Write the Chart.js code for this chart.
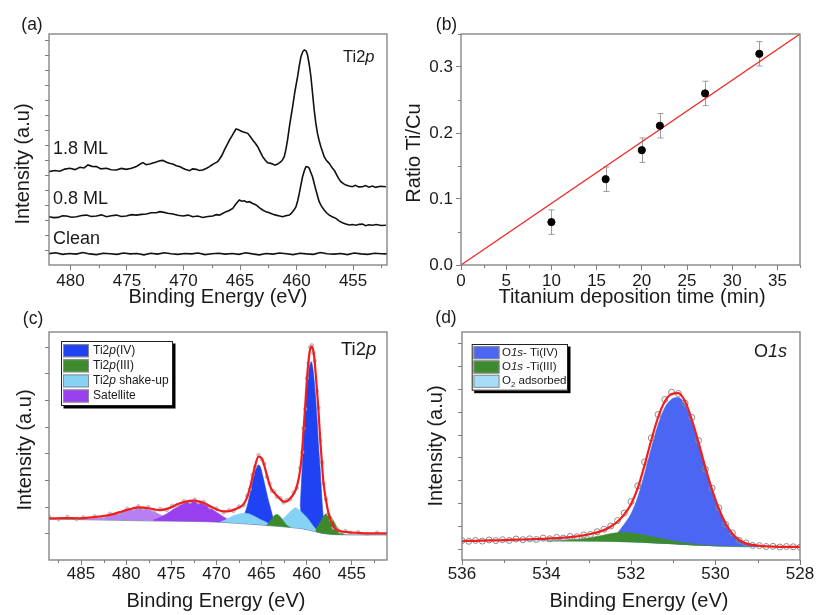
<!DOCTYPE html>
<html><head><meta charset="utf-8">
<script src="https://cdn.jsdelivr.net/npm/chart.js@4.4.1/dist/chart.umd.min.js"></script>
<style>
html,body{margin:0;padding:0;background:#fff;}
#wrap{position:relative;width:816px;height:615px;overflow:hidden;background:#fff;}
canvas{position:absolute;left:0;top:0;width:816px;height:615px;}
</style></head><body>
<div id="wrap">
<canvas id="ca" width="816" height="615"></canvas>
<canvas id="cb" width="816" height="615"></canvas>
<canvas id="cc" width="816" height="615"></canvas>
<canvas id="cd" width="816" height="615"></canvas>
</div>
<script>
// ================= DATA =================
// (a) Ti2p spectra, [binding energy (eV), intensity (a.u.)]
const aXTicks = [480, 475, 470, 465, 460, 455];
const aXMinor = [477.5, 472.5, 467.5, 462.5, 457.5, 452.5];
const aYTicks = [6.5, 13, 19.5, 26, 32.5, 39, 45.5, 52, 58.5, 65, 71.5, 78, 84.5, 91, 97.5];
const aSeriesNames = ['1.8 ML', '0.8 ML', 'Clean'];
const a18 = [[481.92,40.4],[481.4,40.9],[480.94,40.6],[480.5,41.5],[480.06,41.9],[479.6,41.3],[479.18,42.3],[478.8,42.0],[478.45,43.3],[478.1,42.7],
[477.7,42.6],[477.3,41.6],[476.82,41.9],[476.4,41.2],[475.94,41.1],[475.5,41.8],[475.06,41.4],[474.6,41.9],[474.17,42.6],[473.9,43.5],
[473.59,44.3],[473.3,43.4],[473.0,43.7],[472.7,44.2],[472.41,44.6],[472.1,45.1],[471.83,45.3],[471.5,44.5],[471.24,44.0],[470.9,43.6],
[470.64,43.0],[470.3,42.5],[470.06,41.9],[469.8,41.3],[469.47,40.8],[469.2,41.6],[468.88,41.4],[468.6,40.9],[468.3,41.1],[468.0,41.8],
[467.7,42.6],[467.5,43.3],[467.26,44.0],[467.0,44.6],[466.82,45.8],[466.6,47.5],[466.38,49.8],[466.15,52.0],[465.94,54.1],[465.7,56.0],
[465.5,57.7],[465.35,58.9],[465.2,58.7],[465.0,58.2],[464.77,57.7],[464.55,57.4],[464.32,57.0],[464.1,55.6],[463.88,54.1],[463.65,52.7],
[463.44,51.2],[463.2,48.9],[463.0,46.9],[462.75,45.2],[462.56,44.3],[462.35,44.1],[462.12,43.7],[461.9,43.2],[461.68,43.7],[461.5,44.3],
[461.38,44.7],[461.25,45.5],[461.09,46.9],[460.95,49.8],[460.8,54.1],[460.6,61.0],[460.35,68.5],[460.15,75.0],[459.91,81.5],[459.75,86.5],
[459.61,90.2],[459.45,92.4],[459.32,93.1],[459.15,92.6],[459.03,90.9],[458.88,86.8],[458.73,81.5],[458.6,75.0],[458.44,67.1],[458.3,61.5],
[458.15,57.0],[458.0,53.8],[457.85,51.2],[457.7,49.0],[457.56,46.9],[457.35,45.2],[457.11,44.0],[456.95,42.8],[456.82,41.9],[456.65,40.9],
[456.52,39.7],[456.3,37.6],[456.08,36.1],[455.85,35.2],[455.64,34.6],[455.35,34.2],[455.06,33.9],[454.8,34.5],[454.5,33.8],[454.17,33.9],
[453.9,34.4],[453.6,33.7],[453.29,34.2],[453.0,33.6],[452.6,34.1],[452.1,33.9]];
const a08 = [[481.92,20.9],[481.5,20.5],[481.09,20.6],[480.7,21.3],[480.35,21.2],[479.9,20.7],[479.47,20.9],[479.0,21.4],[478.59,21.6],[478.15,21.0],
[477.7,21.2],[477.25,21.7],[476.82,20.9],[476.4,21.3],[475.94,21.6],[475.5,21.0],[475.06,21.2],[474.6,21.8],[474.17,21.6],[473.7,21.9],
[473.29,22.1],[472.85,22.6],[472.41,22.6],[472.1,23.1],[471.83,22.9],[471.4,22.4],[470.94,22.1],[470.5,21.5],[470.06,21.2],[469.6,21.6],
[469.18,20.9],[468.75,21.2],[468.3,20.6],[467.85,21.0],[467.41,21.2],[467.1,21.8],[466.82,21.6],[466.5,22.4],[466.23,23.1],[465.95,23.6],
[465.65,24.5],[465.35,26.5],[465.06,28.1],[464.85,27.6],[464.62,27.8],[464.4,27.2],[464.17,27.4],[463.88,26.6],[463.58,26.0],[463.3,24.8],
[463.0,23.8],[462.7,23.0],[462.41,22.6],[462.1,22.0],[461.82,21.6],[461.5,21.2],[461.24,20.9],[460.95,21.3],[460.64,21.6],[460.5,22.2],
[460.35,23.1],[460.2,24.0],[460.05,25.2],[459.9,27.8],[459.76,31.0],[459.6,35.0],[459.47,38.2],[459.3,41.0],[459.17,42.6],[459.0,42.4],
[458.88,41.9],[458.72,39.8],[458.59,38.2],[458.45,35.5],[458.29,32.5],[458.15,30.0],[458.0,27.4],[457.8,25.5],[457.56,23.8],[457.35,22.6],
[457.11,21.6],[456.8,20.8],[456.52,20.2],[456.25,19.1],[455.94,18.3],[455.65,17.8],[455.35,17.3],[455.05,17.5],[454.76,17.2],[454.45,17.6],
[454.17,17.7],[453.9,17.0],[453.6,17.4],[453.29,17.2],[452.95,17.5],[452.5,17.1],[452.1,17.2]];
const aClean = [[481.9,4.9],[481.3,5.3],[480.7,4.6],[480.1,5.0],[479.5,4.7],[478.9,5.4],[478.3,4.8],[477.7,4.5],[477.1,5.1],[476.5,4.9],
[475.9,4.6],[475.3,5.2],[474.7,4.8],[474.1,5.0],[473.5,4.4],[472.9,5.1],[472.3,4.7],[471.7,5.3],[471.1,4.9],[470.5,4.6],
[469.9,5.0],[469.3,4.8],[468.7,5.2],[468.1,4.5],[467.5,4.9],[466.9,5.1],[466.3,4.7],[465.7,5.0],[465.1,4.6],[464.5,5.3],
[463.9,4.8],[463.3,4.4],[462.7,5.0],[462.1,4.7],[461.5,5.2],[460.9,4.9],[460.3,4.5],[459.7,5.1],[459.1,4.8],[458.5,4.6],
[457.9,5.4],[457.3,4.9],[456.7,4.7],[456.1,5.0],[455.5,4.5],[454.9,5.2],[454.3,4.8],[453.7,4.6],[453.1,5.1],[452.5,4.9],[452.0,4.8]];

// (b) Ti/Cu ratio vs deposition time
const bXTicks = [0, 5, 10, 15, 20, 25, 30, 35];
const bXMinor = [2.5, 7.5, 12.5, 17.5, 22.5, 27.5, 32.5, 37.5];
const bYTicks = [0, 0.1, 0.2, 0.3];
const bYMinor = [0.05, 0.15, 0.25, 0.35];
const bTime = [10, 16, 20, 22, 27, 33];
const bRatio = [0.065, 0.130, 0.174, 0.211, 0.260, 0.320];
const bErr = [0.0185, 0.0185, 0.0185, 0.0185, 0.0185, 0.0185];
const bFitX = [0, 37.5];
const bFitY = [0, 0.35];

// (c) Ti2p fit
const cXTicks = [485, 480, 475, 470, 465, 460, 455];
const cXMinor = [487.5, 482.5, 477.5, 472.5, 467.5, 462.5, 457.5, 452.5];
const cYTicks = [11.7, 23.4, 35.1, 46.8, 58.5, 70.2, 81.9, 93.6];
const cBase = [[488.55,17.9],[486,17.8],[483,17.6],[480,17.4],[477,17.2],[474,17.0],[471,16.8],[469,16.5],[467.5,16.1],[466,15.7],
[464.5,15.2],[463,14.7],[461.5,14.2],[460.5,13.7],[459.8,13.2],[459.2,12.6],[458.6,12.0],[458,11.5],[457.3,11.2],[456.5,11.1],[454,11.0],[451.1,11.0]];
const cSat1 = [[485,17.8],[484,18.0],[483,18.5],[482,19.4],[481,20.5],[480,21.7],[479.2,22.5],[478.6,22.7],[478,22.6],[477.3,21.8],
[476.6,20.6],[476,19.4],[475.3,18.3],[474.6,17.6],[474,17.2]];
const cSat2 = [[477,17.5],[476.2,18.8],[475.5,20.3],[474.8,22.2],[474,24.0],[473.3,25.2],[472.7,25.6],[472,25.3],[471.3,24.2],[470.6,22.6],
[469.9,20.7],[469.2,18.9],[468.5,17.4],[467.8,16.6]];
const cShake1 = [[469.6,16.6],[469,17.6],[468.4,18.9],[467.8,19.9],[467.2,20.4],[466.8,20.5],[466.3,20.1],[465.8,19.2],[465.2,17.9],[464.6,16.8],[464,15.6],[463.5,15.0]];
const cShake2 = [[464.2,15.2],[463.5,16.0],[463,17.0],[462.5,18.5],[462,20.5],[461.5,22.4],[461.25,22.9],[460.8,21.8],[460.3,20.0],[459.8,17.8],[459.3,15.0],[458.8,12.8],[458.5,11.8]];
const cIV1 = [[466.9,20.0],[466.6,23.5],[466.3,28.5],[466.0,34.0],[465.7,39.0],[465.34,41.7],[465.1,40.5],[464.85,36.5],[464.6,32.2],[464.3,27.0],[464.05,23.4],[463.8,19.5],[463.6,16.8]];
const cIV2 = [[460.72,23.4],[460.55,36.0],[460.35,51.2],[460.15,65.0],[459.98,74.6],[459.8,81.0],[459.69,84.8],[459.5,87.0],[459.35,85.0],[459.25,81.9],
[459.05,73.0],[458.87,62.9],[458.7,51.0],[458.5,39.5],[458.35,29.0],[458.2,20.5],[458.1,16.5]];
const cIII1 = [[464.4,15.3],[464,17.3],[463.6,19.4],[463.3,20.0],[463,19.3],[462.6,17.2],[462.2,15.2],[461.8,14.3]];
const cIII2 = [[459,13.5],[458.5,16.5],[458.1,19.5],[457.76,20.2],[457.4,19.5],[457,17.0],[456.6,14.0],[456.2,12.0],[455.8,11.3]];
const cEnv = [[488.55,18.3],[487.5,18.3],[486.5,18.4],[485.5,18.3],[484.75,18.4],[483.5,18.8],[482.5,19.3],[481.8,19.8],[480.8,20.9],[479.9,22.0],
[479.2,22.7],[478.65,23.1],[478.1,23.0],[477.54,22.7],[476.9,22.2],[476.24,21.9],[475.5,22.4],[474.9,23.3],[474.39,24.3],[473.6,25.4],
[472.92,25.9],[472.4,26.0],[472.0,25.7],[471.4,25.0],[470.7,23.6],[470.0,22.2],[469.2,21.3],[468.6,21.4],[468.1,22.0],[467.5,23.0],
[467.0,24.4],[466.6,27.5],[466.3,31.5],[466.0,36.5],[465.7,41.5],[465.34,45.3],[464.97,44.5],[464.7,41.5],[464.4,37.0],[464.1,33.0],
[463.86,30.8],[463.6,29.5],[463.3,28.2],[462.9,26.6],[462.57,25.6],[462.2,25.8],[461.83,27.0],[461.45,29.0],[461.09,32.2],[460.72,39.5],
[460.5,48.0],[460.35,57.0],[460.17,67.0],[459.98,78.9],[459.8,87.0],[459.61,92.5],[459.43,93.6],[459.25,91.5],[459.1,86.5],[458.87,75.0],
[458.7,66.0],[458.5,53.0],[458.3,42.0],[458.14,34.0],[457.85,26.0],[457.58,20.5],[457.3,17.0],[457.03,14.6],[456.6,13.2],[456.3,12.7],
[455.7,12.3],[455.2,12.1],[454.3,11.9],[453.3,11.7],[452.2,11.7],[451.1,11.7]];
const cMeas = [[488.55,18.8],[487.5,17.9],[486.5,18.9],[485.5,18.0],[484.75,18.7],[483.5,19.2],[482.5,18.9],[481.8,20.3],[480.8,20.5],[479.9,22.5],
[479.2,22.3],[478.65,23.6],[478.1,22.6],[477.54,23.2],[476.9,21.7],[476.24,22.4],[475.5,21.9],[474.9,23.8],[474.39,23.9],[473.6,25.9],
[472.92,25.5],[472.4,26.5],[472.0,25.3],[471.4,25.5],[470.7,23.1],[470.0,22.7],[469.2,20.8],[468.6,21.9],[468.1,21.5],[467.5,23.5],
[467.0,24.0],[466.6,28.2],[466.3,31.0],[466.0,37.3],[465.7,41.0],[465.34,46.0],[464.97,44.0],[464.7,42.2],[464.4,36.4],[464.1,33.6],
[463.86,30.3],[463.6,30.1],[463.3,27.7],[462.9,27.1],[462.57,25.2],[462.2,26.3],[461.83,26.6],[461.45,29.6],[461.09,31.7],[460.72,40.3],
[460.5,47.3],[460.35,57.8],[460.17,66.2],[459.98,79.8],[459.8,86.3],[459.61,93.3],[459.43,94.2],[459.25,90.8],[459.1,87.3],[458.87,74.2],
[458.7,66.8],[458.5,52.3],[458.3,42.8],[458.14,33.5],[457.85,26.6],[457.58,20.0],[457.3,17.5],[457.03,14.2],[456.6,13.6],[456.3,12.4],
[455.7,12.7],[455.2,11.8],[454.3,12.2],[453.3,11.4],[452.2,12.0],[451.1,11.5]];

// (d) O1s fit
const dXTicks = [536, 534, 532, 530, 528];
const dXMinor = [535, 533, 531, 529];
const dYTicks = [5, 15, 25, 35, 45, 55, 65, 75, 85, 95];
const dBase = [[536,8.2],[535,8.2],[534,8.2],[533,8.1],[532.5,8.0],[532,7.8],[531.5,7.4],[531,6.9],[530.5,6.4],[530,6.0],[529.5,5.8],[529,5.7],[528,5.7]];
const dO2 = [[535.2,8.25],[534.8,8.5],[534.4,8.8],[534.0,9.05],[533.6,9.2],[533.2,9.2],[532.8,9.0],[532.4,8.6],[532.0,8.1],[531.6,7.6]];
const dIII = [[534.0,8.3],[533.6,8.6],[533.2,9.2],[532.9,10.0],[532.6,11.1],[532.4,11.8],[532.2,12.1],[532.0,11.9],[531.8,11.3],[531.5,10.2],
[531.2,9.1],[530.9,8.0],[530.6,7.2],[530.3,6.6],[530.0,6.2],[529.6,5.9],[529.2,5.75]];
const dIV = [[532.32,11.8],[532.16,15.7],[532.0,20.2],[531.84,27.5],[531.68,37.7],[531.52,49.0],[531.36,59.3],[531.2,66.8],[531.04,70.5],[530.88,71.3],
[530.72,68.0],[530.56,60.3],[530.4,50.6],[530.24,39.9],[530.08,30.4],[529.92,22.2],[529.76,15.8],[529.6,11.4],[529.44,8.7],[529.28,7.2],
[529.12,6.5],[528.96,6.1],[528.8,5.9],[528.64,5.8],[528.32,5.7]];
const dFit = [[536.0,8.3],[535.84,8.4],[535.68,8.4],[535.52,8.5],[535.36,8.6],[535.2,8.6],[535.04,8.7],[534.88,8.8],[534.72,8.9],[534.56,9.0],
[534.4,9.1],[534.24,9.2],[534.08,9.3],[533.92,9.5],[533.76,9.6],[533.6,9.8],[533.44,10.0],[533.28,10.4],[533.12,10.8],[532.96,11.4],
[532.8,12.1],[532.64,13.1],[532.48,14.7],[532.32,16.8],[532.16,20.0],[532.0,24.5],[531.84,31.5],[531.68,41.5],[531.52,52.5],[531.36,62.5],
[531.2,69.5],[531.04,72.8],[530.88,73.2],[530.72,69.5],[530.56,61.5],[530.4,51.5],[530.24,40.5],[530.08,30.8],[529.92,22.5],[529.76,16.0],
[529.6,11.5],[529.44,8.8],[529.28,7.3],[529.12,6.6],[528.96,6.2],[528.8,6.0],[528.64,5.9],[528.48,5.8],[528.32,5.8],[528.16,5.8],[528.0,5.8]];
const dMeas = [[536.0,8.5],[535.84,8.2],[535.68,8.6],[535.52,8.3],[535.36,8.8],[535.2,8.5],[535.04,8.9],[534.88,8.6],[534.72,9.2],[534.56,8.9],
[534.4,9.3],[534.24,9.0],[534.08,9.6],[533.92,9.3],[533.76,9.9],[533.6,9.6],[533.44,10.3],[533.28,10.2],[533.12,11.0],[532.96,11.2],
[532.8,12.4],[532.64,13.5],[532.48,14.9],[532.32,17.3],[532.16,20.6],[532.0,25.6],[531.84,32.5],[531.68,43.0],[531.52,53.5],[531.36,63.8],
[531.2,70.4],[531.04,73.6],[530.88,73.0],[530.72,68.8],[530.56,62.5],[530.4,52.4],[530.24,39.8],[530.08,31.5],[529.92,22.9],[529.76,15.6],
[529.6,11.9],[529.44,8.6],[529.28,7.5],[529.12,6.4],[528.96,6.3],[528.8,5.9],[528.64,6.0],[528.48,5.7],[528.32,5.9],[528.16,5.8],[528.0,5.6]];

// ================= RENDERING =================
const FONT = '"Liberation Sans", Arial, Helvetica, sans-serif';
Chart.defaults.font.family = FONT;
Chart.defaults.color = '#1a1a1a';
const AXIS = '#7d7d7d';
const TXT = '#1a1a1a';

function pts(arr) { return arr.map(p => ({x: p[0], y: p[1]})); }
function zip(xs, ys) { return xs.map((x, i) => ({x: x, y: ys[i]})); }

function richText(ctx, parts, x, y, size, align) {
  let total = 0;
  const segs = parts.map(p => {
    const fs = p.sub ? size * 0.68 : size;
    const f = (p.i ? 'italic ' : '') + fs + 'px ' + FONT;
    ctx.font = f;
    const w = ctx.measureText(p.t).width;
    total += w;
    return {t: p.t, f: f, w: w, dy: p.sub ? size * 0.3 : 0};
  });
  let cx = align === 'center' ? x - total / 2 : (align === 'right' ? x - total : x);
  ctx.textAlign = 'left';
  ctx.textBaseline = 'middle';
  segs.forEach(s => { ctx.font = s.f; ctx.fillText(s.t, cx, y + s.dy); cx += s.w; });
}

function deco(cfg) {
  return {
    id: 'deco',
    beforeDatasetsDraw(chart) { if (cfg.under) cfg.under(chart); },
    afterDraw(chart) {
      const ctx = chart.ctx, a = chart.chartArea, xs = chart.scales.x, ys = chart.scales.y;
      ctx.save();
      ctx.strokeStyle = AXIS; ctx.lineWidth = 1;
      (cfg.xMinor || []).forEach(v => {
        const px = Math.round(xs.getPixelForValue(v)) + 0.5;
        ctx.beginPath(); ctx.moveTo(px, a.bottom); ctx.lineTo(px, a.bottom + 3); ctx.stroke();
      });
      (cfg.yMinor || []).forEach(v => {
        const py = Math.round(ys.getPixelForValue(v)) + 0.5;
        ctx.beginPath(); ctx.moveTo(a.left - 3, py); ctx.lineTo(a.left, py); ctx.stroke();
      });
      (cfg.yTicks || []).forEach(v => {
        const py = Math.round(ys.getPixelForValue(v)) + 0.5;
        ctx.beginPath(); ctx.moveTo(a.left - 4, py); ctx.lineTo(a.left, py); ctx.stroke();
      });
      ctx.lineWidth = 1.3;
      ctx.strokeRect(a.left, a.top, a.right - a.left, a.bottom - a.top);
      const L = cfg.legend;
      if (L) {
        ctx.fillStyle = '#000';
        ctx.fillRect(L.x + 2.5, L.y + 2.5, L.w, L.h);
        ctx.fillStyle = '#fff';
        ctx.fillRect(L.x, L.y, L.w, L.h);
        ctx.strokeStyle = '#222'; ctx.lineWidth = 1;
        ctx.strokeRect(L.x + 0.5, L.y + 0.5, L.w - 1, L.h - 1);
        L.items.forEach((it, k) => {
          const cy = L.y0 + k * L.dy;
          ctx.fillStyle = it.color;
          ctx.fillRect(L.sx, cy - L.sh / 2, L.sw, L.sh);
          ctx.strokeStyle = '#8a8a8a';
          ctx.strokeRect(L.sx + 0.5, cy - L.sh / 2 + 0.5, L.sw - 1, L.sh - 1);
          ctx.fillStyle = TXT;
          richText(ctx, it.parts, L.tx, cy, L.size, 'left');
        });
      }
      ctx.fillStyle = TXT;
      (cfg.texts || []).forEach(t => {
        if (t.rot) {
          ctx.save(); ctx.translate(t.x, t.y); ctx.rotate(-Math.PI / 2);
          richText(ctx, t.parts, 0, 0, t.size, 'center');
          ctx.restore();
        } else {
          richText(ctx, t.parts, t.x, t.y, t.size, t.align || 'left');
        }
      });
      ctx.restore();
    }
  };
}

function xAxis(min, max, ticksArr, pad, fmt) {
  return {
    type: 'linear', min: min, max: max, reverse: min > 100,
    afterBuildTicks(s) { s.ticks = ticksArr.map(v => ({value: v})); },
    ticks: {autoSkip: false, maxRotation: 0, minRotation: 0, padding: pad, color: TXT,
      font: {size: 17, lineHeight: 1}, callback: fmt || (v => String(v))},
    grid: {display: true, drawOnChartArea: false, drawTicks: true, tickLength: 5, tickColor: AXIS, tickWidth: 1},
    border: {display: false},
    afterFit(s) { s.height = 30; }
  };
}
function yHidden(min, max) {
  return {type: 'linear', min: min, max: max, ticks: {display: false}, grid: {display: false},
    border: {display: false}, afterFit(s) { s.width = 10; }};
}
function baseOpts(pad, scales) {
  return {responsive: false, animation: false, devicePixelRatio: 1, events: [],
    layout: {padding: pad},
    plugins: {legend: {display: false}, tooltip: {enabled: false}},
    scales: scales};
}
function lineDs(arr, color, width, order, extra) {
  return Object.assign({data: pts(arr), borderColor: color, borderWidth: width, pointRadius: 0,
    fill: false, order: order, tension: 0}, extra || {});
}
function fillDs(arr, color, order) {
  return {data: pts(arr), borderColor: color, borderWidth: 0.6, backgroundColor: color, pointRadius: 0,
    fill: 0, order: order, cubicInterpolationMode: 'monotone'};
}
const T = s => [{t: s}];

// ---- (a) ----
new Chart(document.getElementById('ca'), {
  type: 'line',
  data: {datasets: [
    lineDs(a18, '#111', 1.6, 1),
    lineDs(a08, '#111', 1.6, 2),
    lineDs(aClean, '#111', 1.6, 3)
  ]},
  options: baseOpts({left: 39, right: 429, top: 34, bottom: 320},
    {x: xAxis(452, 481.9, aXTicks, 2.5), y: yHidden(0, 100)}),
  plugins: [deco({
    xMinor: aXMinor, yTicks: aYTicks,
    texts: [
      {parts: T('(a)'), x: 32, y: 25, size: 17.5, align: 'center'},
      {parts: [{t: 'Ti2'}, {t: 'p', i: 1}], x: 343, y: 57, size: 16.5},
      {parts: T(aSeriesNames[0]), x: 53, y: 149, size: 18},
      {parts: T(aSeriesNames[1]), x: 53, y: 199, size: 18},
      {parts: T(aSeriesNames[2]), x: 53, y: 239, size: 18},
      {parts: T('Intensity (a.u)'), x: 23, y: 164, size: 20, rot: 1},
      {parts: T('Binding Energy (eV)'), x: 218, y: 297, size: 20, align: 'center'}
    ]
  })]
});

// ---- (b) ----
new Chart(document.getElementById('cb'), {
  type: 'scatter',
  data: {datasets: [
    {data: zip(bTime, bRatio), pointRadius: 3.6, pointBackgroundColor: '#000', pointBorderColor: '#000', showLine: false, order: 0},
    {data: zip(bFitX, bFitY), borderColor: '#f02828', borderWidth: 1.3, pointRadius: 0, showLine: true, order: 1}
  ]},
  options: baseOpts({left: 400, right: 16, top: 34, bottom: 320}, {
    x: xAxis(0, 37.5, bXTicks, 2.5),
    y: {type: 'linear', min: 0, max: 0.35,
      afterBuildTicks(s) { s.ticks = bYTicks.map(v => ({value: v})); },
      ticks: {padding: 3, color: TXT, font: {size: 17, lineHeight: 1}, callback: v => Number(v).toFixed(1)},
      grid: {display: true, drawOnChartArea: false, drawTicks: true, tickLength: 5, tickColor: AXIS},
      border: {display: false}, afterFit(s) { s.width = 61; }}
  }),
  plugins: [deco({
    xMinor: bXMinor, yMinor: bYMinor,
    under(chart) {
      const ctx = chart.ctx, xs = chart.scales.x, ys = chart.scales.y;
      ctx.save(); ctx.strokeStyle = '#9c9c9c'; ctx.lineWidth = 1;
      bTime.forEach((t, i) => {
        const px = Math.round(xs.getPixelForValue(t)) + 0.5;
        const y1 = ys.getPixelForValue(bRatio[i] - bErr[i]);
        const y2 = ys.getPixelForValue(bRatio[i] + bErr[i]);
        ctx.beginPath();
        ctx.moveTo(px, y1); ctx.lineTo(px, y2);
        ctx.moveTo(px - 3, y1); ctx.lineTo(px + 3, y1);
        ctx.moveTo(px - 3, y2); ctx.lineTo(px + 3, y2);
        ctx.stroke();
      });
      ctx.restore();
    },
    texts: [
      {parts: T('(b)'), x: 446.5, y: 25, size: 17.5, align: 'center'},
      {parts: T('Ratio Ti/Cu'), x: 414, y: 153, size: 20, rot: 1},
      {parts: T('Titanium deposition time (min)'), x: 632, y: 297, size: 20, align: 'center'}
    ]
  })]
});

// ---- (c) ----
const C_IV = '#1f42f2', C_III = '#3d8a2c', C_SHK = '#86d2f5', C_SAT = '#9a3ff0', C_SAT1 = '#b67ff2';
new Chart(document.getElementById('cc'), {
  type: 'line',
  data: {datasets: [
    lineDs(cBase, '#8ea2b2', 1.2, 10),
    fillDs(cSat1, C_SAT1, 9),
    fillDs(cSat2, C_SAT, 8),
    fillDs(cShake1, C_SHK, 6),
    fillDs(cShake2, C_SHK, 6),
    fillDs(cIV1, C_IV, 7),
    fillDs(cIV2, C_IV, 7),
    fillDs(cIII1, C_III, 5),
    fillDs(cIII2, C_III, 5),
    {data: pts(cMeas), showLine: false, pointRadius: 1.8, pointBackgroundColor: 'rgba(200,200,200,0.9)',
      pointBorderColor: 'rgba(160,160,160,0.9)', pointBorderWidth: 0.6, order: 2},
    lineDs(cEnv, '#f21d1d', 2.2, 1, {cubicInterpolationMode: 'monotone'})
  ]},
  options: baseOpts({left: 39, right: 429, top: 332, bottom: 25},
    {x: xAxis(451.1, 488.55, cXTicks, 1), y: yHidden(0, 100)}),
  plugins: [deco({
    xMinor: cXMinor, yTicks: cYTicks,
    legend: {x: 61, y: 341, w: 112, h: 65, sx: 63, sw: 26, sh: 13, tx: 93, y0: 350.7, dy: 15.1, size: 12,
      items: [
        {color: C_IV, parts: [{t: 'Ti2'}, {t: 'p', i: 1}, {t: '(IV)'}]},
        {color: C_III, parts: [{t: 'Ti2'}, {t: 'p', i: 1}, {t: '(III)'}]},
        {color: C_SHK, parts: [{t: 'Ti2'}, {t: 'p', i: 1}, {t: ' shake-up'}]},
        {color: C_SAT, parts: [{t: 'Satellite'}]}
      ]},
    texts: [
      {parts: T('(c)'), x: 33, y: 319, size: 17.5, align: 'center'},
      {parts: [{t: 'Ti2'}, {t: 'p', i: 1}], x: 341, y: 350, size: 18.5},
      {parts: T('Intensity (a.u)'), x: 25, y: 450, size: 20, rot: 1},
      {parts: T('Binding Energy (eV)'), x: 216, y: 601, size: 20, align: 'center'}
    ]
  })]
});

// ---- (d) ----
const D_IV = '#4b66f2', D_III = '#3d8b2f', D_O2 = '#a6defa';
new Chart(document.getElementById('cd'), {
  type: 'line',
  data: {datasets: [
    lineDs(dBase, 'rgba(0,0,0,0)', 0.5, 10),
    fillDs(dO2, D_O2, 6),
    fillDs(dIII, D_III, 5),
    fillDs(dIV, D_IV, 7),
    lineDs(dFit, '#f21d1d', 2.2, 1, {cubicInterpolationMode: 'monotone'}),
    {data: pts(dMeas), showLine: false, pointRadius: 3, pointBackgroundColor: 'rgba(255,255,255,0)',
      pointBorderColor: '#8a8a8a', pointBorderWidth: 1, order: 2}
  ]},
  options: baseOpts({left: 452, right: 16, top: 332, bottom: 25},
    {x: xAxis(528, 536, dXTicks, 1), y: yHidden(0, 100)}),
  plugins: [deco({
    xMinor: dXMinor, yTicks: dYTicks,
    legend: {x: 471.7, y: 344, w: 96.3, h: 46.7, sx: 473.5, sw: 26, sh: 13, tx: 502, y0: 352.7, dy: 14.3, size: 11.5,
      items: [
        {color: D_IV, parts: [{t: 'O'}, {t: '1s', i: 1}, {t: '- Ti(IV)'}]},
        {color: D_III, parts: [{t: 'O'}, {t: '1s', i: 1}, {t: ' -Ti(III)'}]},
        {color: D_O2, parts: [{t: 'O'}, {t: '2', sub: 1}, {t: ' adsorbed'}]}
      ]},
    texts: [
      {parts: T('(d)'), x: 446, y: 318, size: 17.5, align: 'center'},
      {parts: [{t: 'O'}, {t: '1s', i: 1}], x: 754, y: 352, size: 18},
      {parts: T('Intensity (a.u)'), x: 436, y: 446, size: 20, rot: 1},
      {parts: T('Binding Energy (eV)'), x: 639, y: 601, size: 20, align: 'center'}
    ]
  })]
});
</script>
</body></html>
